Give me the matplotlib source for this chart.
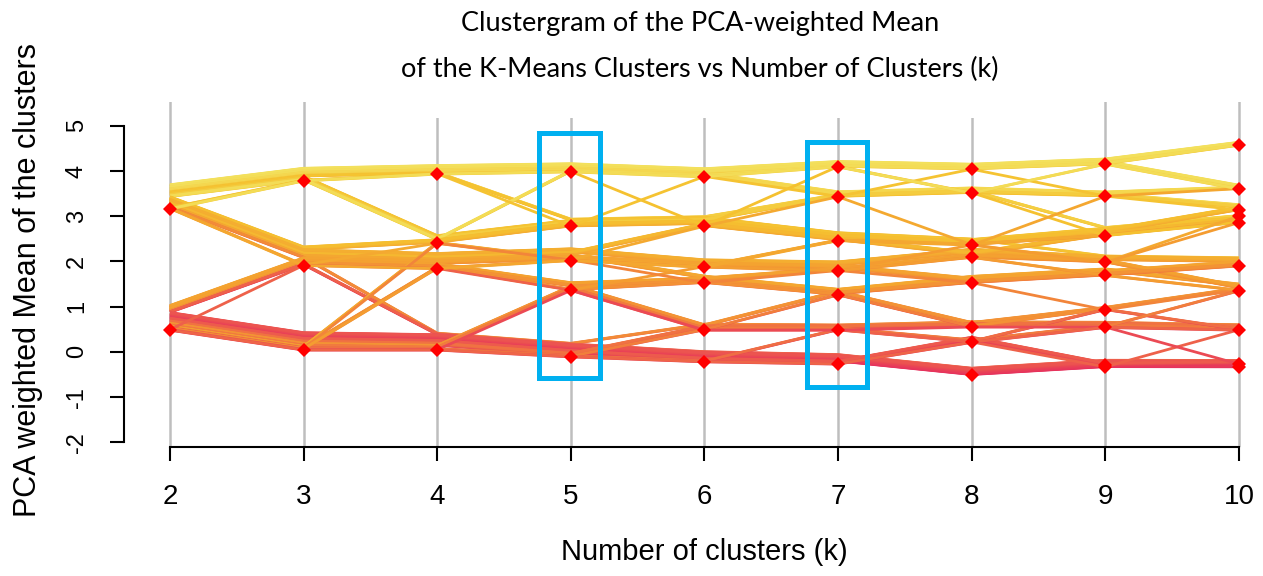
import numpy as np
import matplotlib.pyplot as plt
from matplotlib.collections import LineCollection
from matplotlib.colors import LinearSegmentedColormap, Normalize
from matplotlib.patches import Rectangle

plt.rcParams['axes.unicode_minus'] = False

# 클러스터 개수 (k)
k_values = [2, 3, 4, 5, 6, 7, 8, 9, 10]

# k 별 클러스터 중심 (PCA weighted mean)
centers_k2 = [3.16, 0.48]
centers_k3 = [3.78, 1.91, 0.04]
centers_k4 = [3.93, 2.40, 1.84, 0.04]
centers_k5 = [3.98, 2.78, 2.02, 1.36, -0.11]
centers_k6 = [3.87, 2.78, 1.87, 1.53, 0.48, -0.22]
centers_k7 = [4.09, 3.43, 2.46, 1.79, 1.26, 0.48, -0.27]
centers_k8 = [4.04, 3.51, 2.36, 2.09, 1.53, 0.55, 0.21, -0.50]
centers_k9 = [4.15, 3.44, 2.57, 1.98, 1.69, 0.93, 0.54, -0.33, -0.30]
centers_k10 = [4.57, 3.60, 3.14, 3.00, 2.86, 1.90, 1.35, 0.48, -0.27, -0.33]
centers = [centers_k2, centers_k3, centers_k4, centers_k5, centers_k6,
           centers_k7, centers_k8, centers_k9, centers_k10]

# 관측치 그룹: k=2..10 에서 속한 클러스터 번호, 그룹 크기
group_paths = [
    [0, 0, 0, 0, 0, 0, 0, 0, 0],
    [0, 0, 0, 0, 0, 0, 0, 0, 1],
    [0, 0, 0, 0, 0, 1, 1, 1, 1],
    [0, 0, 0, 0, 0, 1, 1, 1, 2],
    [0, 0, 0, 1, 1, 1, 1, 2, 3],
    [0, 0, 0, 1, 1, 2, 2, 3, 5],
    [0, 0, 1, 1, 1, 2, 2, 2, 4],
    [0, 0, 1, 1, 1, 1, 1, 1, 2],
    [0, 0, 1, 0, 0, 0, 0, 0, 0],
    [0, 1, 1, 1, 1, 2, 2, 2, 2],
    [0, 1, 2, 2, 2, 3, 3, 3, 5],
    [0, 1, 2, 2, 1, 2, 3, 2, 4],
    [0, 1, 2, 2, 3, 4, 4, 4, 6],
    [0, 1, 3, 4, 4, 5, 5, 6, 7],
    [1, 1, 2, 2, 2, 3, 4, 4, 5],
    [1, 1, 2, 3, 3, 3, 3, 3, 6],
    [1, 1, 2, 3, 4, 4, 5, 5, 6],
    [1, 1, 3, 4, 5, 6, 7, 7, 8],
    [1, 2, 3, 4, 5, 6, 7, 7, 9],
    [1, 2, 3, 4, 5, 6, 6, 8, 8],
    [1, 2, 3, 4, 4, 5, 5, 6, 7],
    [1, 2, 3, 3, 3, 4, 4, 4, 5],
    [1, 2, 3, 3, 4, 5, 6, 6, 7],
    [1, 2, 1, 2, 2, 2, 2, 2, 4],
    [1, 2, 2, 3, 3, 4, 5, 5, 6],
    [1, 2, 3, 4, 5, 5, 6, 5, 7],
    # 소수 그룹 (가는 선)
    [0, 0, 0, 0, 1, 0, 1, 2, 4],
    [0, 0, 0, 1, 0, 1, 0, 1, 2],
    [0, 1, 1, 2, 1, 1, 2, 3, 3],
    [0, 1, 2, 3, 2, 3, 2, 3, 4],
    [1, 2, 1, 2, 3, 3, 4, 5, 6],
    [1, 2, 2, 2, 2, 3, 3, 4, 6],
    [1, 2, 3, 4, 4, 4, 5, 6, 6],
    [1, 1, 2, 3, 4, 5, 6, 7, 7],
    [1, 2, 3, 3, 4, 5, 5, 6, 8],
    [0, 1, 2, 2, 2, 2, 2, 1, 1],
    [1, 2, 3, 4, 5, 6, 6, 6, 7],
    [0, 0, 0, 0, 0, 0, 1, 0, 1],
]
group_sizes = [10, 8, 7, 5, 3, 2, 8, 6, 4, 12, 15, 10, 8, 3,
               12, 10, 5, 4, 25, 12, 10, 8, 6, 3, 3, 3,
               1, 1, 1, 1, 1, 2, 2, 1, 1, 1, 2, 2]

# 강조 박스 (k, 아래, 위)
highlight_k = [5, 7]
highlight_low = [-0.58, -0.78]
highlight_high = [4.85, 4.65]

line_step = 0.005

# 관측치 펼치기
obs_path = []
obs_group = []
obs_rank = []
for g, (p, n) in enumerate(zip(group_paths, group_sizes)):
    for r in range(n):
        obs_path.append(p)
        obs_group.append(g)
        obs_rank.append(r / max(n - 1, 1) - 0.5)
obs_path = np.array(obs_path)
obs_group = np.array(obs_group)
obs_rank = np.array(obs_rank)
n_obs = len(obs_path)
vals = np.array([[centers[i][obs_path[j, i]] for i in range(len(k_values))]
                 for j in range(n_obs)])
# 색: 경로 평균 + 그룹 안 위치
shade = vals.mean(axis=1) + 0.7 * obs_rank

# 클러스터 안에서 쌓기 (그룹 순서대로)
Y = vals.copy()
for i in range(len(k_values)):
    for c in range(len(centers[i])):
        idx = np.where(obs_path[:, i] == c)[0]
        idx = idx[np.argsort(-obs_group[idx], kind='stable')]
        Y[idx, i] += line_step * np.arange(len(idx))

cmap = LinearSegmentedColormap.from_list(
    'heat', [(0.0, '#e6325e'), (0.1, '#ea4656'), (0.3, '#f2843a'),
             (0.5, '#f4a030'), (0.75, '#f5c230'), (1.0, '#f3e05c')])
norm = Normalize(shade.min(), shade.max())

fig = plt.figure(figsize=(12.63, 5.76), dpi=100)
ax = fig.add_axes([124 / 1263, 129 / 576, 1139 / 1263, 345 / 576])
ax.set_xlim(1.6558, 10.1796)
ax.set_ylim(-2.1026, 5.525)

for k in k_values:
    ax.axvline(k, color='#bebebe', lw=1.8, zorder=0)

segs = [np.column_stack([k_values, Y[j]]) for j in range(n_obs)]
lc = LineCollection(segs, colors=[cmap(norm(v)) for v in shade],
                    linewidths=2.0, zorder=2)
ax.add_collection(lc)

for k, c in zip(k_values, centers):
    ax.plot([k] * len(c), c, 'D', color='red', ms=7, mew=0, zorder=3,
            clip_on=False)

for k, lo, hi in zip(highlight_k, highlight_low, highlight_high):
    ax.add_patch(Rectangle((k - 0.236, lo), 0.454, hi - lo, fill=False,
                           ec='#00b0f0', lw=3.6, zorder=4))

for s in ['top', 'right']:
    ax.spines[s].set_visible(False)
ax.spines['left'].set_bounds(-2, 5)
ax.spines['bottom'].set_bounds(2, 10)
for s in ['left', 'bottom']:
    ax.spines[s].set_linewidth(1.5)
ax.set_xticks(k_values)
ax.set_yticks(range(-2, 6))
ax.tick_params(length=10, width=1.5, colors='black')
ax.tick_params(axis='x', pad=17, labelsize=20)
ax.tick_params(axis='y', pad=16, labelsize=17)
for t in ax.get_yticklabels():
    t.set_rotation(90)
    t.set_va('center')
for t in ax.get_xticklabels() + ax.get_yticklabels():
    t.set_family('Liberation Sans')

fig.patches.append(Rectangle((330 / 1263, 1 - 118 / 576), 710 / 1263, 118 / 576,
                             transform=fig.transFigure, fc='white', ec='none',
                             zorder=1))
fig.text(700 / 1263, 1 - 23 / 576, 'Clustergram of the PCA-weighted Mean',
         ha='center', va='center', fontsize=19.5, family='Lato', zorder=5)
fig.text(700 / 1263, 1 - 69 / 576,
         'of the K-Means Clusters vs Number of Clusters (k)',
         ha='center', va='center', fontsize=19.5, family='Lato', zorder=5)
fig.text(704 / 1263, 1 - 552 / 576, 'Number of clusters (k)', ha='center',
         va='center', fontsize=21, family='Liberation Sans')
fig.text(28 / 1263, 1 - 280 / 576, 'PCA weighted Mean of the clusters',
         ha='center', va='center', rotation=90, fontsize=22,
         family='Liberation Sans')

plt.savefig('out.png', dpi=100)
